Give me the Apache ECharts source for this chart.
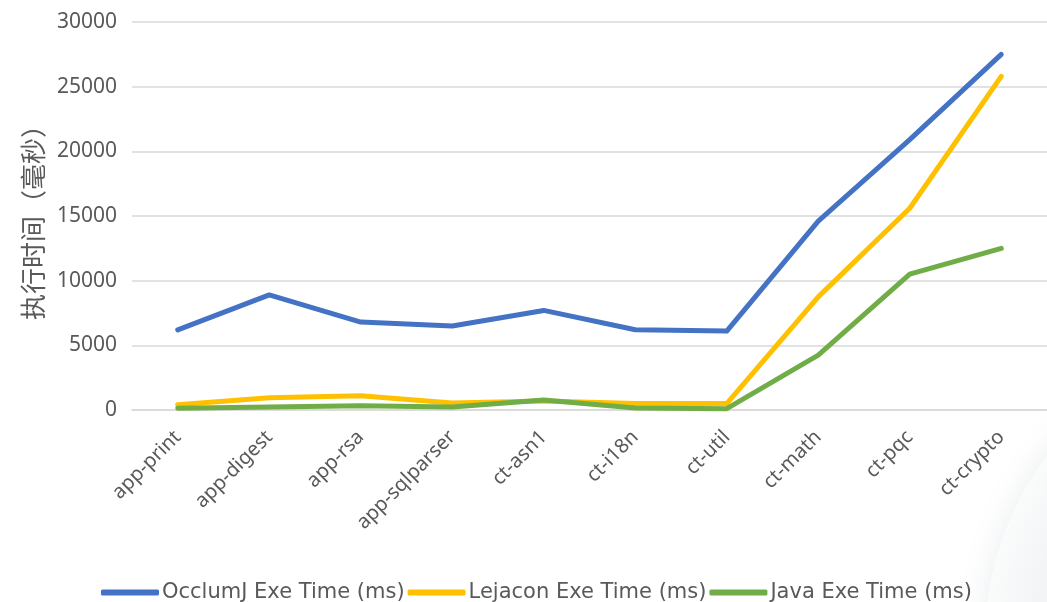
<!DOCTYPE html>
<html>
<head>
<meta charset="utf-8">
<script src="https://cdn.jsdelivr.net/npm/echarts@6/dist/echarts.min.js"></script>
<style>
html,body{margin:0;padding:0;background:#fff;}
#c{width:1047px;height:602px;}
</style>
</head>
<body>
<div id="c"></div>
<script>
const categories = ['app-print','app-digest','app-rsa','app-sqlparser','ct-asn1','ct-i18n','ct-util','ct-math','ct-pqc','ct-crypto'];
const occlumJ = [6200, 8900, 6800, 6500, 7700, 6200, 6100, 14600, 20900, 27500];
const lejacon = [400, 950, 1100, 550, 700, 500, 500, 8750, 15600, 25800];
const java = [130, 230, 330, 230, 770, 150, 100, 4250, 10500, 12500];
const seriesNames = ['OcclumJ Exe Time (ms)', 'Lejacon Exe Time (ms)', 'Java Exe Time (ms)'];
const colors = ['#4472C4', '#FFC000', '#70AD47'];

const font = '"Noto Sans", "Noto Sans CJK SC", sans-serif';
const cjk = '"Noto Sans CJK SC", sans-serif';
const chart = echarts.init(document.getElementById('c'), null, {renderer: 'canvas'});
const mk = (name, data, color) => ({
  name, type: 'line', data, symbol: 'none', smooth: false, z: 3,
  lineStyle: {width: 5, color, cap: 'round', join: 'round'},
  itemStyle: {color}
});
chart.setOption({
  backgroundColor: '#fff',
  animation: false,
  color: colors,
  graphic: [{
    type: 'circle', z: -10, silent: true,
    shape: {cx: 1290, cy: 640, r: 305},
    style: {
      fill: new echarts.graphic.RadialGradient(0.5, 0.5, 0.5, [
        {offset: 0, color: '#e9ecef'},
        {offset: 0.8, color: '#f1f3f5'},
        {offset: 1, color: '#fafbfb'}
      ]),
      shadowBlur: 30, shadowColor: 'rgba(220,224,228,0.6)'
    }
  }],
  grid: {left: 132, right: -15, top: 22, bottom: 192, containLabel: false},
  legend: {
    bottom: -6, left: 96,
    itemWidth: 58, itemHeight: 6, itemGap: 3,
    icon: 'roundRect',
    textStyle: {fontFamily: '"DejaVu Sans", sans-serif', fontSize: 21, color: '#595959', padding: [0, 0, 0, -2]},
    data: seriesNames
  },
  xAxis: {
    type: 'category', data: categories, boundaryGap: true,
    axisLine: {show: true, lineStyle: {color: '#d9d9d9', width: 1.5}},
    axisTick: {show: false},
    axisLabel: {rotate: 45, margin: 24, fontFamily: font, fontSize: 20, color: '#595959', interval: 0}
  },
  yAxis: {
    type: 'value', min: 0, max: 30000, interval: 5000,
    name: '执行时间（毫秒）', nameLocation: 'middle', nameGap: 84, nameRotate: 90,
    nameTextStyle: {fontFamily: cjk, fontSize: 26, color: '#595959'},
    axisLine: {show: false}, axisTick: {show: false},
    axisLabel: {margin: 15, fontFamily: font, fontSize: 21, color: '#595959', formatter: v => String(v)},
    splitLine: {lineStyle: {color: '#d9d9d9', width: 1.5}}
  },
  series: [
    mk(seriesNames[0], occlumJ, colors[0]),
    mk(seriesNames[1], lejacon, colors[1]),
    mk(seriesNames[2], java, colors[2])
  ]
});
</script>
</body>
</html>
